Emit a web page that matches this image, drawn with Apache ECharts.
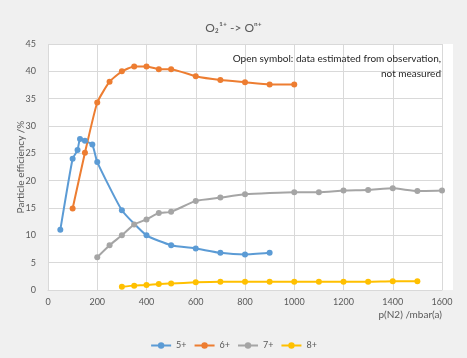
<!DOCTYPE html>
<html>
<head>
<meta charset="utf-8">
<script src="https://cdn.jsdelivr.net/npm/echarts@6/dist/echarts.min.js"></script>
<style>
  html, body { margin: 0; padding: 0; background: #f0f0f0; }
  #chart { width: 467px; height: 358px; }
</style>
</head>
<body>
<div id="chart"></div>
<script>
// Pressure p(N2) in mbar(a) and particle efficiency in % per charge state
const p5 = [50, 100, 120, 130, 150, 180, 200, 300, 400, 500, 600, 700, 800, 900];
const eff5 = [11.0, 24.0, 25.6, 27.6, 27.3, 26.6, 23.4, 14.6, 10.0, 8.2, 7.6, 6.8, 6.5, 6.8];

const p6 = [100, 150, 200, 250, 300, 350, 400, 450, 500, 600, 700, 800, 900, 1000];
const eff6 = [14.9, 25.1, 34.3, 38.1, 40.0, 40.9, 40.9, 40.4, 40.4, 39.1, 38.4, 38.0, 37.6, 37.6];

const p7 = [200, 250, 300, 350, 400, 450, 500, 600, 700, 800, 1000, 1100, 1200, 1300, 1400, 1500, 1600];
const eff7 = [6.0, 8.2, 10.0, 12.0, 12.9, 14.1, 14.3, 16.3, 16.9, 17.5, 17.9, 17.9, 18.2, 18.3, 18.6, 18.1, 18.2];

const p8 = [300, 350, 400, 450, 500, 600, 700, 800, 900, 1000, 1100, 1200, 1300, 1400, 1500];
const eff8 = [0.6, 0.8, 0.9, 1.1, 1.2, 1.4, 1.5, 1.5, 1.5, 1.5, 1.5, 1.5, 1.5, 1.6, 1.6];

const seriesNames = ['5+', '6+', '7+', '8+'];
const seriesColors = ['#5b9bd5', '#ed7d31', '#a5a5a5', '#ffc000'];

const pairs = (xs, ys) => xs.map((x, i) => [x, ys[i]]);
const dataSets = [pairs(p5, eff5), pairs(p6, eff6), pairs(p7, eff7), pairs(p8, eff8)];

const FONT = 'Lato';
const chart = echarts.init(document.getElementById('chart'));

chart.setOption({
  animation: false,
  backgroundColor: '#f0f0f0',
  textStyle: { fontFamily: FONT },
  title: {
    text: 'O\u2082\u00B9\u207A -> O\u207F\u207A',
    left: 'center',
    top: 17,
    textStyle: { fontFamily: FONT, fontSize: 12, fontWeight: 'normal', color: '#595959' }
  },
  graphic: [
    {
      type: 'rect', z: -1, silent: true,
      shape: { x: 48, y: 44, width: 405, height: 246 },
      style: { fill: '#ffffff' }
    },
    {
      type: 'text', x: 441, y: 51, z: 10,
      style: {
        text: 'Open symbol: data estimated from observation,\nnot measured',
        align: 'right', verticalAlign: 'top', lineHeight: 15,
        font: '10px ' + FONT, fill: '#262626'
      }
    }
  ],
  grid: { left: 48, right: 25, top: 44, bottom: 68, containLabel: false, outerBoundsMode: 'none' },
  legend: {
    bottom: 3,
    left: 'center',
    itemWidth: 20,
    itemHeight: 8,
    itemGap: 7,
    textStyle: { fontFamily: FONT, fontSize: 9, color: '#595959' },
    data: seriesNames
  },
  xAxis: {
    type: 'value',
    min: 0, max: 1600, interval: 200,
    name: 'p(N2) /mbar(a)',
    nameLocation: 'end',
    nameGap: 0,
    nameTextStyle: { fontFamily: FONT, fontSize: 10, color: '#595959', align: 'right', verticalAlign: 'top', padding: [20, 0, 0, 0] },
    axisLine: { show: true, lineStyle: { color: '#d9d9d9', width: 1 } },
    axisTick: { show: false },
    axisLabel: { fontFamily: FONT, fontSize: 9, color: '#595959', margin: 8, formatter: v => String(v) },
    splitLine: { show: true, lineStyle: { color: '#d9d9d9', width: 1 } }
  },
  yAxis: {
    type: 'value',
    min: 0, max: 45, interval: 5,
    name: 'Particle efficiency /%',
    nameLocation: 'middle',
    nameMoveOverlap: false,
    nameGap: 22,
    nameTextStyle: { fontFamily: FONT, fontSize: 10, color: '#595959' },
    axisLine: { show: false },
    axisTick: { show: false },
    axisLabel: { fontFamily: FONT, fontSize: 9, color: '#595959', margin: 12 },
    splitLine: { show: true, lineStyle: { color: '#d9d9d9', width: 1 } }
  },
  series: dataSets.map((d, i) => ({
    name: seriesNames[i],
    type: 'line',
    data: d,
    color: seriesColors[i],
    symbol: 'circle',
    symbolSize: 6,
    lineStyle: { width: 2, color: seriesColors[i] },
    itemStyle: { color: seriesColors[i] },
    smooth: 0.15
  }))
});
</script>
</body>
</html>
